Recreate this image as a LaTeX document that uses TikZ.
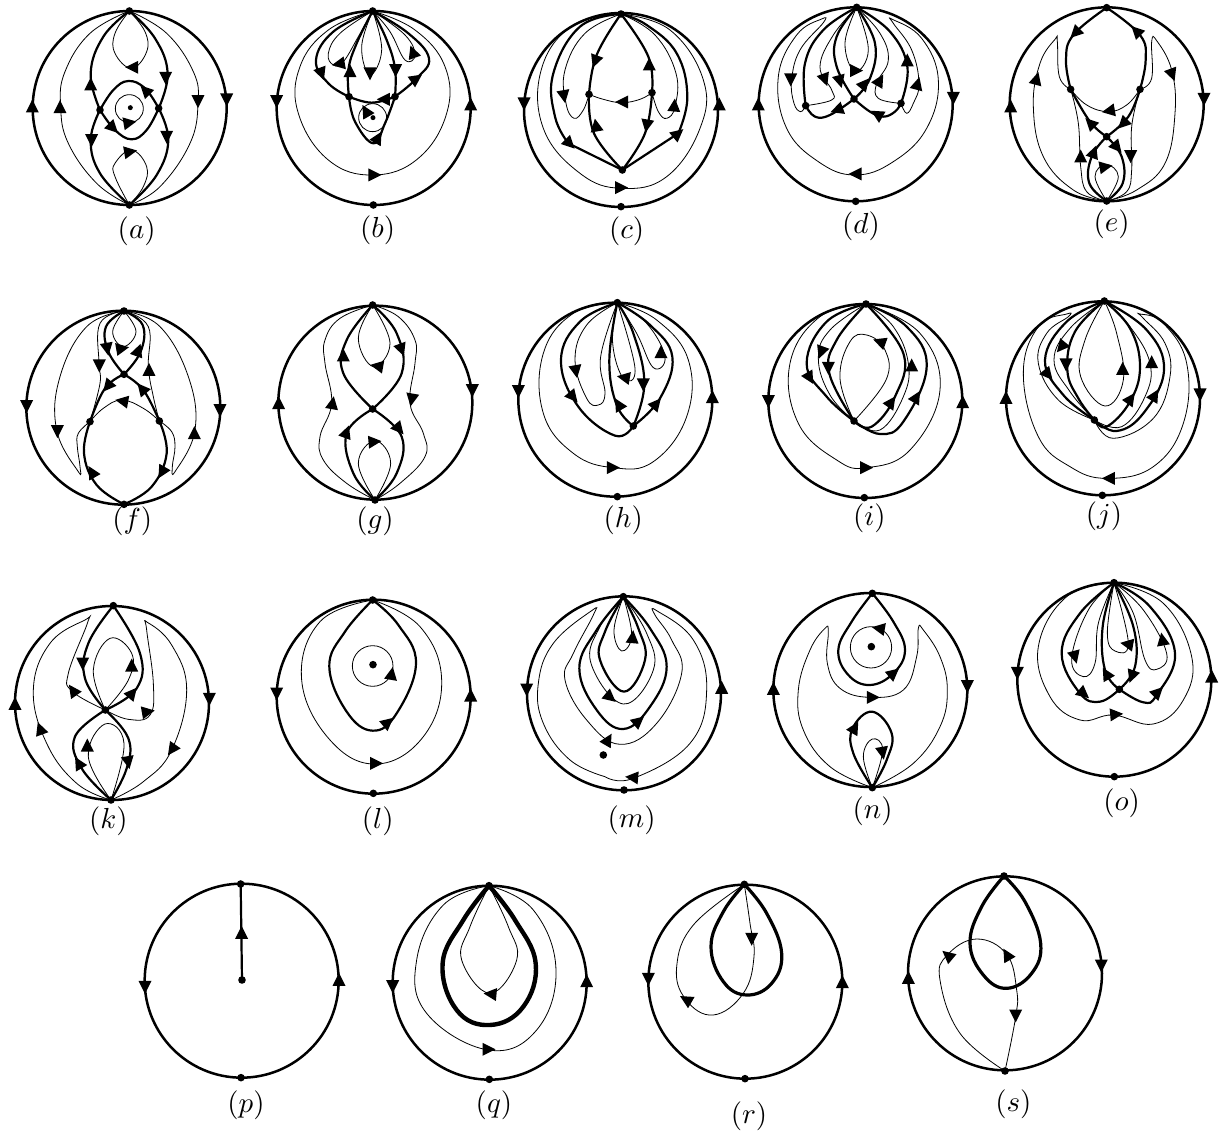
\documentclass[tikz,border=0pt]{standalone}
\usepackage{amsmath,amssymb}

% arrow heads: x/y/angle, singular points: x/y
\newcommand{\heads}[1]{\foreach \x/\y/\a in {#1} {\fill[shift={(\x,\y)},rotate=\a] (6.5pt,0pt) -- (-6.5pt,6.5pt) -- (-6.5pt,-6.5pt) -- cycle;}}
\newcommand{\sings}[1]{\foreach \x/\y in {#1} {\fill (\x,\y) circle[radius=3.8pt];}}
\newcommand{\disk}[2]{\draw[bdry] (#1,#2) circle[radius=291];}

\begin{document}
\begin{tikzpicture}[
    x=1pt, y=-1pt, tension=0.7,
    crop/.style 2 args={shift={(#1,#2)}, x=0.33333pt, y=-0.33333pt},
    bdry/.style={line width=2.5pt},
    sep/.style={line width=2.2pt, line join=round},
    fat/.style={line width=3.2pt},
    fatter/.style={line width=4.4pt},
    orb/.style={line width=0.8pt},
    lab/.style={scale=2.9}
]
    \useasboundingbox (0,0) rectangle (1223,1131);

    \begin{scope}[crop={0}{0}]
    % Panel a
    \disk{389}{324}
    \draw[orb] plot[smooth] coordinates {(388,33) (270,100) (195,215) (182,320) (205,430) (290,550) (388,615)};
    \draw[orb] plot[smooth] coordinates {(388,33) (500,100) (580,215) (594,310) (570,430) (480,560) (388,615)};
    \draw[orb] plot[smooth] coordinates {(388,33) (345,100) (345,160) (395,205) (440,155) (435,95) (388,33)};
    \draw[orb] plot[smooth] coordinates {(388,615) (345,530) (345,490) (395,450) (440,500) (430,560) (388,615)};
    \draw[sep] plot[smooth] coordinates {(388,33) (310,110) (272,220) (300,330)};
    \draw[sep] plot[smooth] coordinates {(388,33) (465,115) (503,220) (476,325)};
    \draw[sep] plot[smooth] coordinates {(300,330) (345,390) (395,418) (440,390) (476,325)};
    \draw[sep] plot[smooth] coordinates {(476,325) (435,265) (385,243) (340,270) (300,330)};
    \draw[sep] plot[smooth] coordinates {(300,330) (272,420) (300,520) (388,615)};
    \draw[sep] plot[smooth] coordinates {(476,325) (505,420) (470,525) (388,615)};
    \draw[orb] (388,326) circle[radius=42];
    \heads{97/318/90,680/300/-90,180/320/90,594/305/-90,395/202/180,392/455/10,272/252/90,497/235/-90,275/422/-90,500/412/-90,435/270/135,340/385/-45,390/368/10}
    \sings{388/33,388/615,300/330,476/325}
    \fill (391,323) circle[radius=2.5pt];
    \node[lab] (la) at (410,693) {$(a)$};

    % Panel b
    \disk{1121}{324}
    \draw[orb] plot[smooth] coordinates {(1118,33) (985,90) (900,200) (895,340) (985,480) (1120,525) (1255,475) (1340,340) (1335,200) (1245,90) (1118,33)};
    \draw[sep] plot[smooth] coordinates {(1118,33) (1000,95) (948,180) (985,250) (1047,290)};
    \draw[sep] plot[smooth] coordinates {(1047,290) (1115,308) (1185,290)};
    \draw[sep] plot[smooth] coordinates {(1185,290) (1250,235) (1287,175) (1225,100) (1118,33)};
    \draw[sep] plot[smooth] coordinates {(1118,33) (1070,130) (1045,210) (1047,290)};
    \draw[sep] plot[smooth] coordinates {(1047,290) (1065,365) (1120,430) (1155,370) (1185,290)};
    \draw[sep] plot[smooth] coordinates {(1185,290) (1185,205) (1160,120) (1118,33)};
    \draw[orb] plot[smooth] coordinates {(1118,33) (1020,100) (985,160) (1000,195) (1030,185) (1075,110) (1118,33)};
    \draw[orb] plot[smooth] coordinates {(1118,33) (1170,95) (1215,180) (1245,165) (1215,105) (1118,33)};
    \draw[orb] plot[smooth] coordinates {(1118,33) (1085,140) (1110,225) (1145,150) (1118,33)};
    \draw[orb] (1118,353) circle[radius=42];
    \heads{830/305/-90,1412/312/90,1125/525/0,965/222/-70,1250/235/35,1150/298/180,1050/212/90,1187/212/-90,1135/412/60,1015/192/190,1238/155/110,1110/222/-90,1097/332/120}
    \sings{1118/33,1120/615,1047/290,1185/290}
    \fill (1119,353) circle[radius=2.5pt];
    \node[lab] (lb) at (1133,690) {$(b)$};
    \end{scope}

    \begin{scope}[crop={490}{0}]
    % Panel c
    \disk{393}{330}
    \draw[orb] plot[smooth] coordinates {(393,42) (250,75) (155,205) (160,385) (270,520) (395,565) (530,530) (630,385) (640,240) (540,90) (393,42)};
    \draw[sep] plot[smooth] coordinates {(393,42) (270,80) (190,220) (195,350) (235,430)};
    \draw[sep] (235,430) -- (397,510) -- (565,400);
    \draw[sep] plot[smooth] coordinates {(565,400) (592,290) (560,160) (470,75) (393,42)};
    \draw[sep] plot[smooth] coordinates {(393,42) (320,165) (297,283)};
    \draw[sep] plot[smooth] coordinates {(297,283) (312,400) (397,510)};
    \draw[sep] plot[smooth] coordinates {(397,510) (465,400) (486,278)};
    \draw[sep] plot[smooth] coordinates {(486,278) (475,170) (393,42)};
    \draw[orb] plot[smooth] coordinates {(297,283) (340,298) (395,308) (450,298) (486,278)};
    \draw[orb] plot[smooth] coordinates {(393,42) (285,100) (225,210) (228,310) (252,355) (280,330) (297,283)};
    \draw[orb] plot[smooth] coordinates {(393,42) (495,105) (558,220) (555,320) (530,355) (505,335) (486,278)};
    \heads{102/312/-90,688/312/90,395/563/0,240/432/-45,565/400/40,315/185/-110,478/192/90,318/375/100,470/378/-100,395/306/180,222/290/-80,553/315/85}
    \sings{393/42,393/620,297/283,486/278,397/510}
    \node[lab] (lc) at (410,695) {$(c)$};

    % Panel d
    \disk{1097}{313}
    \draw[orb] plot[smooth] coordinates {(947,317) (932,335) (912,310) (905,240) (930,150) (1000,68) (995,57) (920,105) (865,230) (890,385) (985,485) (1095,525) (1210,485) (1310,385) (1345,240) (1295,115) (1207,58) (1210,70) (1265,150) (1287,250) (1270,310) (1250,340) (1233,310)};
    \draw[sep] plot[smooth] coordinates {(1100,22) (1000,90) (945,190) (947,317)};
    \draw[sep] plot[smooth] coordinates {(947,317) (975,350) (1020,345) (1092,297)};
    \draw[sep] plot[smooth] coordinates {(1092,297) (1140,335) (1180,350) (1215,335) (1233,310)};
    \draw[sep] plot[smooth] coordinates {(1233,310) (1252,200) (1200,95) (1100,22)};
    \draw[sep] plot[smooth] coordinates {(1100,22) (1040,110) (1040,200) (1092,297)};
    \draw[sep] plot[smooth] coordinates {(1092,297) (1140,235) (1155,130) (1100,22)};
    \draw[orb] plot[smooth] coordinates {(1100,22) (1065,130) (1095,215) (1135,150) (1100,22)};
    \draw[orb] plot[smooth] coordinates {(1100,22) (1030,105) (990,200) (1025,270) (1025,300) (947,317)};
    \draw[orb] plot[smooth] coordinates {(1100,22) (1170,100) (1195,180) (1160,250) (1165,295) (1233,310)};
    \heads{805/312/90,1390/295/-90,1095/522/180,902/240/-90,1283/250/75,1040/330/200,1160/342/150,1252/180/90,1050/245/-75,1125/250/50,1100/212/0,1005/240/-70,1170/240/60}
    \sings{1100/22,1097/604,947/317,1092/297,1233/310}
    \node[lab] (ld) at (1113,680) {$(d)$};
    \end{scope}

    \begin{scope}[crop={980}{0}]
    % Panel e
    \disk{380}{313}
    \draw[sep] plot[smooth] coordinates {(380,23) (280,105) (258,180) (272,268)};
    \draw[sep] plot[smooth] coordinates {(272,268) (330,365) (380,410)};
    \draw[sep] plot[smooth] coordinates {(380,410) (445,350) (480,268)};
    \draw[sep] plot[smooth] coordinates {(480,268) (497,180) (480,105) (380,23)};
    \draw[sep] plot[smooth] coordinates {(380,410) (335,470) (328,550) (380,603)};
    \draw[sep] plot[smooth] coordinates {(380,410) (425,470) (428,550) (380,603)};
    \draw[orb] plot[smooth] coordinates {(272,268) (320,315) (385,335) (440,315) (480,268)};
    \draw[orb] plot[smooth] coordinates {(272,268) (238,230) (232,125) (225,118) (180,190) (160,320) (190,470) (280,570) (380,603)};
    \draw[orb] plot[smooth] coordinates {(480,268) (515,235) (515,125) (530,122) (575,210) (585,340) (555,490) (470,570) (380,603)};
    \draw[orb] plot[smooth] coordinates {(272,268) (295,370) (302,500) (320,575) (380,603)};
    \draw[orb] plot[smooth] coordinates {(480,268) (455,380) (455,510) (440,575) (380,603)};
    \draw[orb] plot[smooth] coordinates {(380,603) (345,530) (378,493) (415,530) (380,603)};
    \heads{92/318/90,672/298/-90,285/100/225,468/92/135,330/368/135,428/372/-135,342/455/70,412/443/-50,385/333/190,170/235/75,577/225/-70,302/468/90,452/470/-90,378/500/10}
    \sings{380/23,380/603,272/268,480/268,380/410}
    \node[lab] (le) at (395,672) {$(e)$};
    \end{scope}

    \begin{scope}[crop={0}{290}]
    % Panel f
    \disk{370}{353}
    \draw[sep] plot[smooth] coordinates {(372,63) (318,110) (325,185) (372,253)};
    \draw[sep] plot[smooth] coordinates {(372,253) (422,185) (428,105) (372,63)};
    \draw[sep] plot[smooth] coordinates {(372,253) (315,295) (270,395)};
    \draw[sep] plot[smooth] coordinates {(372,253) (430,300) (478,393)};
    \draw[sep] plot[smooth] coordinates {(270,395) (252,490) (290,585) (372,643)};
    \draw[sep] plot[smooth] coordinates {(478,393) (500,490) (455,590) (372,643)};
    \draw[orb] plot[smooth] coordinates {(372,63) (338,125) (370,170) (408,125) (372,63)};
    \draw[orb] plot[smooth] coordinates {(372,63) (300,100) (297,220) (300,280) (270,395)};
    \draw[orb] plot[smooth] coordinates {(372,63) (445,110) (445,230) (460,320) (478,393)};
    \draw[orb] plot[smooth] coordinates {(270,395) (310,355) (365,330) (430,355) (478,393)};
    \draw[orb] plot[smooth] coordinates {(372,63) (260,110) (180,260) (170,420) (235,545) (240,530) (232,470) (235,430) (270,395)};
    \draw[orb] plot[smooth] coordinates {(372,63) (480,110) (565,260) (585,420) (525,545) (517,530) (525,470) (515,425) (478,393)};
    \heads{80/350/-90,660/362/-90,322/178/-80,415/180/70,322/290/-130,425/295/130,275/545/120,485/548/-120,368/175/10,298/228/-90,447/238/90,365/333/170,172/425/-90,583/428/90}
    \sings{372/63,372/643,270/395,478/393,372/253}
    \node[lab] (lf) at (397,695) {$(f)$};

    % Panel g
    \disk{1126}{338}
    \draw[sep] plot[smooth] coordinates {(1118,45) (1040,150) (1030,250) (1118,357)};
    \draw[sep] plot[smooth] coordinates {(1118,357) (1205,250) (1190,130) (1118,45)};
    \draw[sep] plot[smooth] coordinates {(1118,357) (1040,430) (1060,550) (1125,630)};
    \draw[sep] plot[smooth] coordinates {(1118,357) (1205,440) (1190,550) (1125,630)};
    \draw[orb] plot[smooth] coordinates {(1118,45) (1075,145) (1120,230) (1170,160) (1118,45)};
    \draw[orb] plot[smooth] coordinates {(1125,630) (1075,520) (1125,452) (1172,520) (1125,630)};
    \draw[orb] plot[smooth] coordinates {(1118,45) (1020,85) (975,150) (975,220) (995,340) (960,440) (970,510) (1040,580) (1125,630)};
    \draw[orb] plot[smooth] coordinates {(1118,45) (1195,80) (1245,150) (1245,220) (1230,340) (1270,430) (1275,500) (1200,580) (1125,630)};
    \heads{836/338/90,1417/302/-90,1030/195/90,1205/180/-70,1040/425/70,1198/418/-50,1130/228/170,1125/455/5,998/338/80,1235/330/-100}
    \sings{1118/45,1125/630,1118/357}
    \node[lab] (lg) at (1125,695) {$(g)$};
    \end{scope}

    \begin{scope}[crop={490}{290}]
    % Panel h
    \disk{376}{329}
    \draw[orb] plot[smooth] coordinates {(382,38) (250,70) (160,190) (160,370) (250,490) (370,533) (490,515) (590,380) (595,210) (500,90) (382,38)};
    \draw[sep] plot[smooth] coordinates {(382,38) (270,95) (213,210) (265,350) (375,437) (430,408)};
    \draw[sep] plot[smooth] coordinates {(430,408) (510,325) (547,200) (480,105) (382,38)};
    \draw[sep] plot[smooth] coordinates {(382,38) (358,210) (380,345) (430,408)};
    \draw[sep] plot[smooth] coordinates {(430,408) (463,280) (430,130) (382,38)};
    \draw[orb] plot[smooth] coordinates {(382,38) (290,105) (255,210) (290,325) (325,345) (345,310) (332,200) (382,38)};
    \draw[orb] plot[smooth] coordinates {(382,38) (368,160) (400,265) (435,235) (382,38)};
    \draw[orb] plot[smooth] coordinates {(382,38) (440,130) (490,233) (525,200) (470,100) (382,38)};
    \heads{85/305/-90,667/320/90,370/533/0,250/322/-50,500/340/50,385/342/120,460/285/-90,258/245/-80,400/262/170,513/185/90}
    \sings{382/38,382/620,430/408}
    \node[lab] (lh) at (400,690) {$(h)$};

    % Panel i
    \disk{1126}{333}
    \draw[orb] plot[smooth] coordinates {(1128,42) (990,80) (900,220) (925,400) (1040,510) (1130,533) (1260,480) (1350,300) (1290,130) (1128,42)};
    \draw[sep] plot[smooth] coordinates {(1128,42) (1010,95) (950,220) (1010,320) (1092,393)};
    \draw[sep] plot[smooth] coordinates {(1092,393) (1170,432) (1240,395) (1310,230) (1250,110) (1128,42)};
    \draw[sep] plot[smooth] coordinates {(1128,42) (1040,150) (1018,250) (1092,393)};
    \draw[sep] plot[smooth] coordinates {(1092,393) (1145,410) (1215,320) (1240,190) (1128,42)};
    \draw[orb] plot[smooth] coordinates {(1128,42) (1020,120) (985,205) (1020,315) (1092,393)};
    \draw[orb] plot[smooth] coordinates {(1092,393) (1170,420) (1240,320) (1255,220) (1210,110) (1128,42)};
    \draw[orb] plot[smooth] coordinates {(1092,393) (1050,265) (1080,155) (1130,135) (1185,180) (1188,270) (1092,393)};
    \heads{835/335/-90,1418/335/90,1130/533/0,960/265/-60,1280/320/60,1015/235/-90,1205/335/55,993/188/-110,1265/225/90,1168/155/160}
    \sings{1128/42,1123/623,1092/393}
    \node[lab] (li) at (1138,685) {$(i)$};
    \end{scope}

    \begin{scope}[crop={980}{290}]
    % Panel j
    \disk{369}{325}
    \draw[orb] plot[smooth] coordinates {(343,390) (235,330) (175,220) (200,130) (265,80) (260,72) (175,110) (130,250) (175,440) (270,530) (380,565) (520,530) (610,400) (620,220) (550,100) (480,72) (490,85) (555,160) (570,260) (520,385) (400,445) (343,390)};
    \draw[sep] plot[smooth] coordinates {(373,33) (260,95) (195,210) (250,315) (343,390)};
    \draw[sep] plot[smooth] coordinates {(343,390) (410,423) (490,370) (552,240) (500,120) (373,33)};
    \draw[sep] plot[smooth] coordinates {(373,33) (285,125) (262,240) (295,325) (343,390)};
    \draw[sep] plot[smooth] coordinates {(343,390) (380,410) (450,335) (480,230) (450,115) (373,33)};
    \draw[orb] plot[smooth] coordinates {(373,33) (270,115) (222,210) (270,305) (343,390)};
    \draw[orb] plot[smooth] coordinates {(343,390) (425,410) (495,320) (510,220) (450,110) (373,33)};
    \draw[orb] plot[smooth] coordinates {(373,33) (315,150) (302,260) (375,348) (430,270) (410,130) (373,33)};
    \heads{78/322/90,660/315/-90,385/565/180,205/255/-50,525/315/60,258/225/-90,453/325/55,243/172/-130,515/215/90,428/235/90}
    \sings{373/33,367/616,343/390}
    \node[lab] (lj) at (372,680) {$(j)$};
    \end{scope}

    \begin{scope}[crop={0}{590}]
    % Panel k
    \disk{336}{339}
    \draw[sep] plot[smooth] coordinates {(340,47) (265,160) (255,265) (316,360)};
    \draw[sep] plot[smooth] coordinates {(316,360) (410,295) (420,190) (340,47)};
    \draw[sep] plot[smooth] coordinates {(316,360) (225,440) (245,535) (333,630)};
    \draw[sep] plot[smooth] coordinates {(316,360) (385,445) (380,535) (333,630)};
    \draw[orb] plot[smooth] coordinates {(316,360) (280,240) (330,145) (395,190) (385,270) (316,360)};
    \draw[orb] plot[smooth] coordinates {(333,630) (265,500) (315,402) (372,460) (333,630)};
    \draw[orb] plot[smooth] coordinates {(316,360) (218,305) (205,250) (262,100) (255,90) (150,160) (100,300) (140,460) (230,580) (333,630)};
    \draw[orb] plot[smooth] coordinates {(316,360) (385,388) (450,375) (460,280) (440,120) (442,97) (515,165) (560,300) (515,480) (430,575) (333,630)};
    \heads{45/340/90,628/328/-90,248/222/-90,398/308/50,235/518/120,385/518/-80,395/225/90,262/465/90,218/300/125,120/415/110,445/365/10,515/480/-125}
    \sings{340/47,333/630,316/360}
    \node[lab] (lk) at (325,695) {$(k)$};

    % Panel l
    \disk{1121}{320}
    \draw[orb] plot[smooth] coordinates {(1118,30) (960,95) (905,270) (990,450) (1130,522) (1270,440) (1325,270) (1260,110) (1118,30)};
    \draw[sep] plot[smooth] coordinates {(1118,30) (1035,125) (988,230) (1040,365) (1118,422) (1190,370) (1248,220) (1195,105) (1118,30)};
    \draw[orb] (1118,228) circle[radius=61];
    \heads{830/312/-90,1412/315/90,1130/520/0,1165/396/40,1175/250/80}
    \sings{1118/30,1120/610,1119/224}
    \node[lab] (ll) at (1133,695) {$(l)$};
    \end{scope}

    \begin{scope}[crop={490}{590}]
    % Panel m
    \disk{402}{310}
    \draw[orb] plot[smooth] coordinates {(345,560) (240,510) (160,400) (145,280) (190,160) (305,62) (310,75) (250,190) (225,270) (290,390) (390,463) (500,400) (575,250) (545,150) (495,75) (500,62) (610,150) (650,300) (600,460) (430,565) (345,560)};
    \draw[sep] plot[smooth] coordinates {(400,20) (320,120) (268,235) (320,360) (400,417) (480,350) (530,230) (480,115) (400,20)};
    \draw[sep] plot[smooth] coordinates {(400,20) (345,125) (330,210) (402,305) (465,210) (445,115) (400,20)};
    \draw[orb] plot[smooth] coordinates {(400,20) (330,110) (303,220) (400,342) (490,240) (470,130) (400,20)};
    \draw[orb] plot[smooth] coordinates {(400,20) (372,120) (395,183) (425,135) (400,20)};
    \heads{110/300/-90,695/292/90,355/448/60,425/562/175,447/392/40,362/323/-40,428/140/85}
    \sings{400/20,402/600,340/495}
    \node[lab] (lm) at (425,690) {$(m)$};

    % Panel n
    \disk{1141}{300}
    \draw[sep] plot[smooth] coordinates {(1147,10) (1085,95) (1045,180) (1075,255) (1140,285) (1210,250) (1245,180) (1210,95) (1147,10)};
    \draw[orb] (1143,172) circle[radius=62];
    \draw[orb] plot[smooth] coordinates {(1147,593) (1020,530) (940,420) (925,300) (960,180) (1005,115) (1015,125) (1012,220) (1050,295) (1140,322) (1240,300) (1280,200) (1285,115) (1300,120) (1350,200) (1372,300) (1350,410) (1270,520) (1147,593)};
    \draw[sep] plot[smooth] coordinates {(1147,593) (1090,490) (1088,415) (1147,365) (1205,430) (1190,510) (1147,593)};
    \draw[orb] plot[smooth] coordinates {(1147,593) (1120,500) (1147,447) (1178,480) (1147,593)};
    \heads{850/295/90,1432/290/-90,1212/248/40,1165/115/170,1150/322/0,1095/412/60,1178/490/-80}
    \sings{1147/10,1147/593,1144/170}
    \node[lab] (ln) at (1148,665) {$(n)$};
    \end{scope}

    \begin{scope}[crop={980}{570}]
    % Panel o
    \disk{403}{329}
    \draw[orb] plot[smooth] coordinates {(402,38) (260,80) (175,230) (210,380) (300,450) (400,435) (520,462) (610,390) (635,260) (550,100) (402,38)};
    \draw[sep] plot[smooth] coordinates {(402,38) (300,130) (245,250) (300,370) (360,395) (418,358)};
    \draw[sep] plot[smooth] coordinates {(418,358) (490,397) (530,375) (585,250) (510,110) (402,38)};
    \draw[sep] plot[smooth] coordinates {(402,38) (368,170) (375,300) (418,358)};
    \draw[sep] plot[smooth] coordinates {(418,358) (465,290) (460,170) (402,38)};
    \draw[orb] plot[smooth] coordinates {(402,38) (325,120) (275,265) (310,320) (345,280) (355,160) (402,38)};
    \draw[orb] plot[smooth] coordinates {(402,38) (382,190) (405,243) (445,220) (402,38)};
    \draw[orb] plot[smooth] coordinates {(402,38) (460,130) (495,270) (530,298) (560,250) (490,120) (402,38)};
    \heads{112/310/-90,695/318/90,410/433/5,312/372/-40,535/365/45,378/310/120,455/320/-110,285/262/-75,440/222/170,547/207/100}
    \sings{402/38,403/620,418/358}
    \node[lab] (lo) at (425,700) {$(o)$};
    \end{scope}

    \begin{scope}[crop={130}{870}]
    % Panel p
    \disk{335}{332}
    \draw[sep] (332,42) -- (336,330);
    \heads{45/352/-90,627/328/90,335/187/90}
    \sings{332/42,333/623,336/330}
    \node[lab] (lp) at (348,705) {$(p)$};

    % Panel q
    \disk{1079}{338}
    \draw[orb] plot[smooth] coordinates {(1077,47) (940,105) (860,270) (890,430) (1075,540) (1220,480) (1278,300) (1210,120) (1077,47)};
    \draw[fatter] plot[smooth] coordinates {(1077,47) (1000,150) (938,280) (980,420) (1080,465) (1180,410) (1217,280) (1155,150) (1077,47)};
    \draw[orb] plot[smooth] coordinates {(1077,47) (1020,170) (995,270) (1080,370) (1160,270) (1135,170) (1077,47)};
    \heads{788/350/-90,1370/332/90,1077/538/0,1080/372/175}
    \sings{1077/47,1078/628}
    \node[lab] (lq) at (1092,705) {$(q)$};
    \end{scope}

    \begin{scope}[crop={630}{860}]
    % Panel r
    \disk{346}{365}
    \draw[fat] plot[smooth] coordinates {(343,73) (280,155) (243,260) (280,365) (350,405) (425,370) (455,280) (410,160) (343,73)};
    \draw[orb] plot[smooth] coordinates {(343,73) (360,190) (372,290) (340,400) (250,465) (167,418) (140,320) (190,195) (343,73)};
    \heads{55/358/-90,637/365/90,365/238/-90,167/418/150}
    \sings{343/73,345/656}
    \node[lab] (lr) at (357,770) {$(r)$};

    % Panel s
    \disk{1125}{340}
    \draw[fat] plot[smooth] coordinates {(1122,48) (1055,140) (1020,250) (1060,345) (1130,385) (1205,340) (1232,250) (1185,125) (1122,48)};
    \draw[orb] plot[smooth] coordinates {(1125,633) (1157,470) (1160,390) (1130,283) (1040,237) (952,285) (930,360) (990,520) (1125,633)};
    \heads{835/352/90,1414/318/-90,1157/468/-90,1130/283/120,952/285/140}
    \sings{1122/48,1125/633}
    \node[lab] (ls) at (1150,732) {$(s)$};
    \end{scope}
\end{tikzpicture}
\end{document}
